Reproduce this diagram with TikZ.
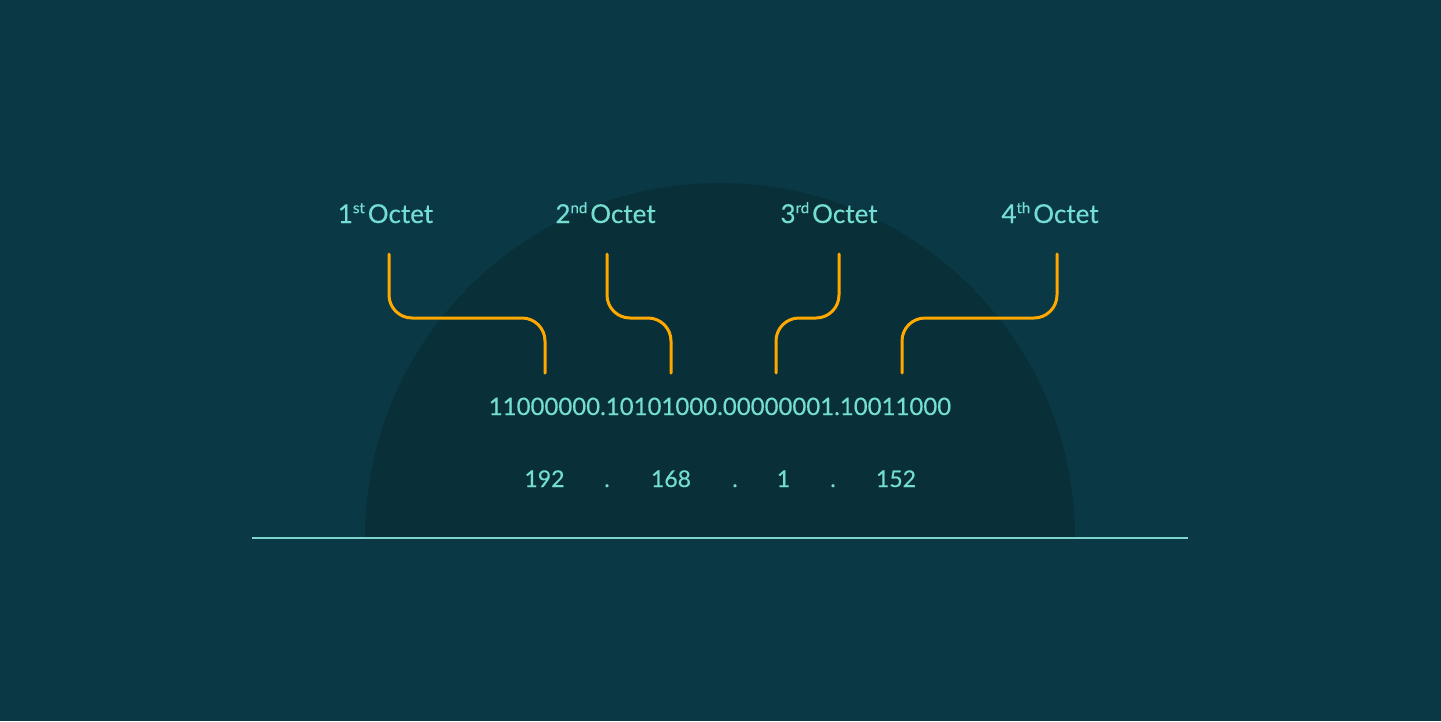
\documentclass[tikz,border=0pt]{standalone}
\usepackage{fontspec}
\setmainfont{Lato}[FakeBold=0.35]
\definecolor{bgout}{RGB}{10,56,69}
\definecolor{bgin}{RGB}{9,47,56}
\definecolor{txt}{RGB}{116,222,210}
\definecolor{rule}{RGB}{124,212,204}
\definecolor{orng}{RGB}{255,168,0}
\tikzset{
  conn/.style={draw=orng, line width=3pt, line cap=round, rounded corners=23pt},
  lbl/.style={text=txt, anchor=base, inner sep=0pt, font=\fontsize{24}{29}\selectfont},
  octlbl/.style={lbl, font=\fontsize{26}{31}\selectfont},
  declbl/.style={lbl, font=\fontsize{23}{28}\selectfont},
}
\newcommand{\octsup}[1]{\raisebox{0.38em}{\fontsize{15}{18}\selectfont #1}\kern3pt}
\begin{document}
\begin{tikzpicture}[x=1pt,y=-1pt]
\fill[bgout] (0,0) rectangle (1441,721);
\useasboundingbox (0,0) rectangle (1441,721);
\begin{scope}
\clip (0,0) rectangle (1441,538);
\fill[bgin] (720,538) circle[radius=355pt];
\end{scope}
\coordinate (la) at (252,538);
\coordinate (lb) at (1188,538);
\draw[rule, line width=2pt] (la) -- (lb);
% labels
\node[octlbl] (o1) at (385.5,223) {1\octsup{st}Octet};
\node[octlbl] (o2) at (605.5,223) {2\octsup{nd}Octet};
\node[octlbl] (o3) at (829,223) {3\octsup{rd}Octet};
\node[octlbl] (o4) at (1050,223) {4\octsup{th}Octet};
% binary
\node[lbl] (bin) at (720,415) {11000000.10101000.00000001.10011000};
% decimal
\node[declbl] (d1) at (544.5,487) {192};
\node[declbl] (p1) at (607,487) {.};
\node[declbl] (d2) at (671,487) {168};
\node[declbl] (p2) at (735,487) {.};
\node[declbl] (d3) at (783.5,487) {1};
\node[declbl] (p3) at (833,487) {.};
\node[declbl] (d4) at (896,487) {152};
% connector ends
\coordinate (t1) at (389,254);
\coordinate (b1) at (545,373);
\coordinate (t2) at (607,254);
\coordinate (b2) at (671,373);
\coordinate (t3) at (839,254);
\coordinate (b3) at (776,373);
\coordinate (t4) at (1057,254);
\coordinate (b4) at (902,373);
\draw[conn] (t1) -- (t1 |- 0,318) -- (b1 |- 0,318) -- (b1);
\draw[conn] (t2) -- (t2 |- 0,318) -- (b2 |- 0,318) -- (b2);
\draw[conn] (t3) -- (t3 |- 0,318) -- (b3 |- 0,318) -- (b3);
\draw[conn] (t4) -- (t4 |- 0,318) -- (b4 |- 0,318) -- (b4);
\end{tikzpicture}
\end{document}
